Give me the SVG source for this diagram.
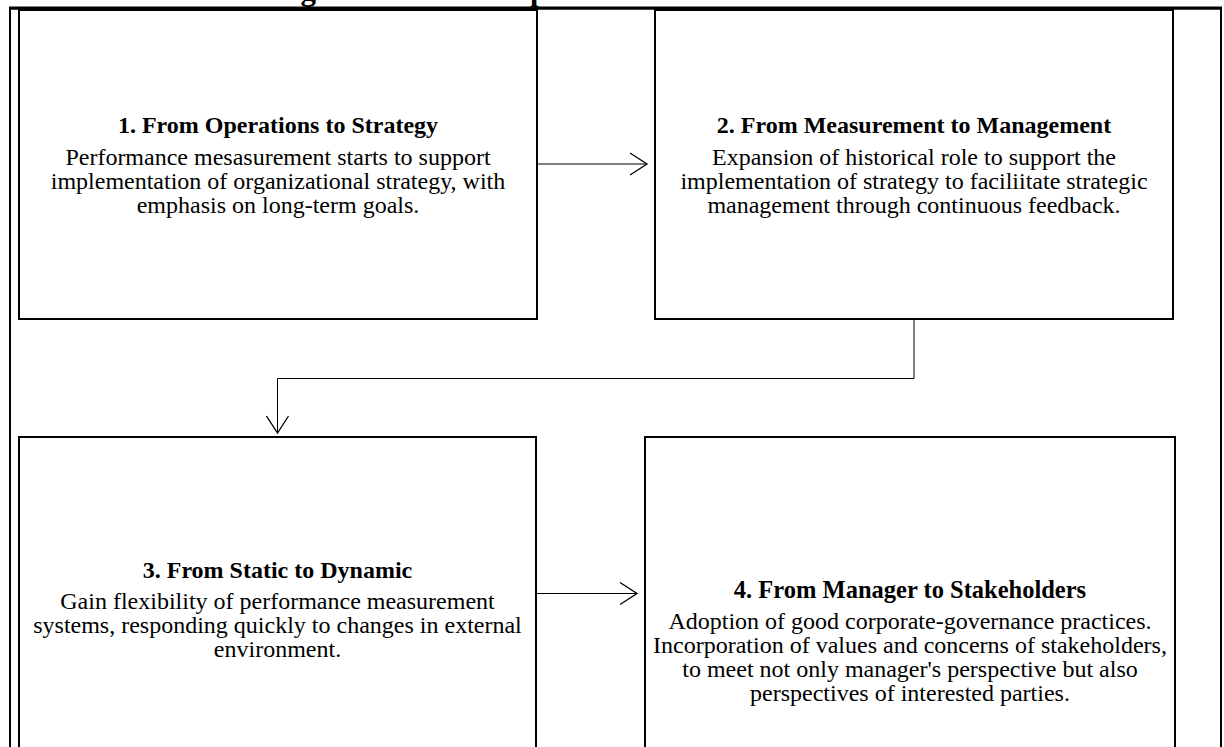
<svg xmlns="http://www.w3.org/2000/svg" width="1224" height="747" viewBox="0 0 1224 747">
<style>
.box{fill:#fff;stroke:#000;stroke-width:2}
.t{font-family:"Liberation Serif","Times New Roman",serif;font-size:24px;fill:#000;text-anchor:middle}
.h{font-weight:bold}
.conn{fill:none;stroke:#000;stroke-width:1}
</style>
<defs>
<marker id="arr" viewBox="0 0 20 24" refX="18" refY="12" markerWidth="20" markerHeight="24" markerUnits="userSpaceOnUse" orient="auto">
<path d="M1,1 L18,12 L1,23" fill="none" stroke="#000" stroke-width="1.3"/>
</marker>
</defs>
<rect width="1224" height="747" fill="#fff"/>
<text x="273" y="-0.5" font-family="Liberation Serif, serif" font-size="31" font-weight="bold">Figure 1 – Paths of performance measurement evolution</text>
<g id="frame">
<path d="M10,760 L10,8.5 L1221,8.5 L1221,760" fill="none" stroke="#000" stroke-width="2"/>
<line x1="9" y1="8" x2="1222" y2="8" stroke="#000" stroke-width="3"/>
</g>
<g id="node1">
<rect class="box" x="19" y="10" width="518" height="309"/>
<text class="t h" x="278" y="133">1. From Operations to Strategy</text>
<text class="t" x="278" y="165">Performance mesasurement starts to support</text>
<text class="t" x="278" y="189">implementation of organizational strategy, with</text>
<text class="t" x="278" y="213">emphasis on long-term goals.</text>
</g>
<g id="node2">
<rect class="box" x="655" y="10" width="518" height="309"/>
<text class="t h" x="914" y="133">2. From Measurement to Management</text>
<text class="t" x="914" y="165">Expansion of historical role to support the</text>
<text class="t" x="914" y="189">implementation of strategy to faciliitate strategic</text>
<text class="t" x="914" y="213">management through continuous feedback.</text>
</g>
<g id="node3">
<rect class="box" x="19" y="437" width="517" height="330"/>
<text class="t h" x="277.5" y="578">3. From Static to Dynamic</text>
<text class="t" x="277.5" y="609">Gain flexibility of performance measurement</text>
<text class="t" x="277.5" y="633">systems, responding quickly to changes in external</text>
<text class="t" x="277.5" y="657">environment.</text>
</g>
<g id="node4">
<rect class="box" x="645" y="437" width="530" height="330"/>
<text class="t h" x="910" y="598" style="font-size:24.5px">4. From Manager to Stakeholders</text>
<text class="t" x="910" y="629">Adoption of good corporate-governance practices.</text>
<text class="t" x="910" y="653">Incorporation of values and concerns of stakeholders,</text>
<text class="t" x="910" y="677">to meet not only manager's perspective but also</text>
<text class="t" x="910" y="701">perspectives of interested parties.</text>
</g>
<g id="connectors">
<path class="conn" d="M537,164 L647,164" marker-end="url(#arr)"/>
<path class="conn" d="M914,320 L914,378.5 L277.5,378.5 L277.5,433" marker-end="url(#arr)"/>
<path class="conn" d="M536,593.5 L637,593.5" marker-end="url(#arr)"/>
</g>
</svg>
